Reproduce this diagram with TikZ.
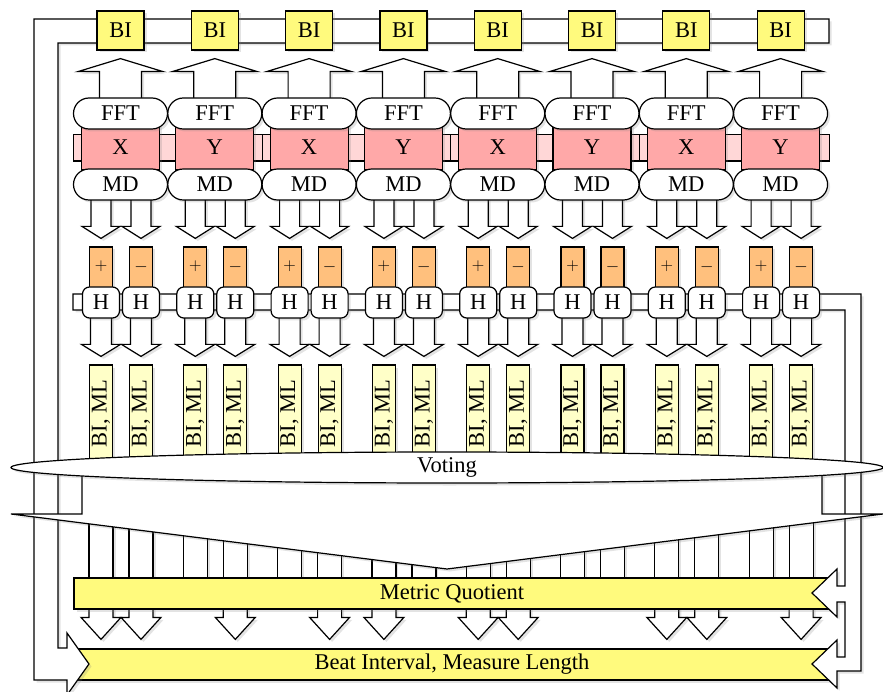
\documentclass[tikz,border=0pt]{standalone}
\usepackage{fontspec}
\setmainfont{Liberation Serif}
\usepackage{tikz}
\usetikzlibrary{calc,positioning,shapes.geometric,shapes.misc,shadows}
\definecolor{biyellow}{RGB}{255,250,125}
\definecolor{xyred}{RGB}{255,168,168}
\definecolor{bandpink}{RGB}{255,215,215}
\definecolor{signorange}{RGB}{255,192,125}
\definecolor{mlyellow}{RGB}{255,255,200}

\pgfdeclarelayer{bottom}
\pgfdeclarelayer{lower}
\pgfsetlayers{bottom,lower,main}

% fat arrow: start, tip, half shaft, half head, head length
\newcommand{\blockarrow}[5]{%
  \path[blockarr] let \p1=#1, \p2=#2 in
    ({\x1-#3},\y1) -- ({\x1-#3},{\y2+(#5)}) -- ({\x1-#4},{\y2+(#5)}) -- (\x1,\y2)
    -- ({\x1+#4},{\y2+(#5)}) -- ({\x1+#3},{\y2+(#5)}) -- ({\x1+#3},\y1) -- cycle;}

\tikzset{
  shad/.style={drop shadow={shadow xshift=2.5pt,shadow yshift=-2.5pt,opacity=0.22}},
  box/.style={draw,line width=1.2pt,inner sep=0pt,shad},
  bibox/.style={box,fill=biyellow,minimum width=47pt,minimum height=39pt},
  pill/.style={box,fill=white,rounded rectangle,minimum width=94pt,minimum height=31pt},
  xybox/.style={box,fill=xyred,minimum width=78pt,minimum height=45pt},
  signbox/.style={box,fill=signorange,minimum width=23pt,minimum height=44pt,font=\fontsize{16}{18}\selectfont},
  hnode/.style={box,fill=white,rounded corners=7pt,minimum width=37pt,minimum height=31pt},
  mlbox/.style={box,fill=mlyellow,rotate=90,minimum width=97pt,minimum height=23pt},
  bar/.style={box,fill=biyellow,minimum width=756pt,minimum height=31pt},
  vote/.style={box,fill=white,ellipse,minimum width=872pt,minimum height=31pt},
  pipe/.style={draw,fill=white,line width=1.2pt,shad},
  band/.style={draw,fill=bandpink,line width=1.2pt},
  blockarr/.style={draw,fill=white,line width=1.2pt,shad}
}

\begin{document}
\begin{tikzpicture}[x=1pt,y=-1pt,line width=1.2pt,font=\fontsize{22.5}{26}\selectfont]
  \useasboundingbox (0,0) rectangle (883,692);
  % result bars
  \node[bar] (mq) at (452,593.5) {Metric Quotient};
  \node[bar] (beat) at (452,664.5) {Beat Interval, Measure Length};
  % feedback from BI row
  \draw[pipe] (829,19) -- (34,19) -- (34,680) -- (67,680) -- (67,695) -- (89,664) -- (67,633)
    -- (67,648) -- (58,648) -- (58,43) -- (829,43) -- cycle;
  % feedback from H row
  \draw[pipe] (73,294) -- (861,294) -- (861,671) -- (837,671) -- (837,688) -- (812,664) -- (837,640)
    -- (837,657) -- (845,657) -- (845,602) -- (837,602) -- (837,617) -- (812,593) -- (837,569)
    -- (837,586) -- (845,586) -- (845,310) -- (73,310) -- cycle;
  % sign / H / BI,ML stage
  \foreach \i in {1,...,8}{
    \pgfmathsetmacro{\cx}{120.5+94.3*(\i-1)}
    \node[signbox] (sp\i) at (\cx-19.5,269) {\raisebox{6pt}{$+$}};
    \node[signbox] (sm\i) at (\cx+20.5,269) {\raisebox{6pt}{$-$}};
    \node[mlbox] (lp\i) at (\cx-19.5,413.5) {BI, ML};
    \node[mlbox] (lm\i) at (\cx+20.5,413.5) {BI, ML};
    \node[hnode] (hp\i) at (\cx-19.5,302.5) {H};
    \node[hnode] (hm\i) at (\cx+20.5,302.5) {H};
  }
  % voting
  \draw[pipe] (82,467) -- (82,514) -- (11,514) -- (447,569) -- (883,514) -- (822,514) -- (822,467) -- cycle;
  \node[vote] (vote) at (447,467.5) {Voting};
  % X/Y pairs
  \foreach \i in {1,3,5,7}{
    \pgfmathsetmacro{\cx}{120.5+94.3*(\i-1)}
    \draw[band] (\cx-47,134.5) rectangle (\cx+143.3,161);
  }
  \foreach \i in {1,...,8}{
    \pgfmathsetmacro{\cx}{120.5+94.3*(\i-1)}
    \node[xybox] (xy\i) at (\cx,147.5) {\ifodd\i\relax X\else Y\fi};
    \node[pill] (fft\i) at (\cx,113.5) {FFT};
    \node[pill] (md\i) at (\cx,184.5) {MD};
    \node[bibox] (bi\i) at (\cx,30.5) {BI};
  }
  \begin{pgfonlayer}{lower}
    \foreach \i in {1,...,8}{
      \blockarrow{(fft\i.center)}{($(bi\i.south)+(0,8)$)}{21}{42.5}{-13}
      \foreach \s in {sp,sm}{
        \blockarrow{(\s\i |- md\i.center)}{($(\s\i.north)+(0,-8)$)}{10}{19}{12}
      }
      \foreach \s/\l in {hp/lp,hm/lm}{
        \blockarrow{(\s\i.center)}{($(\l\i.east)+(0,-8)$)}{10.5}{19.5}{12}
      }
    }
  \end{pgfonlayer}
  \begin{pgfonlayer}{bottom}
    \foreach \i in {1,...,8}{
      \foreach \l in {lp,lm}{
        \draw[blockarr] ($(\l\i.west)+(-12,0)$) rectangle ($(\l\i.west |- mq.north)+(12,0)$);
      }
    }
    \foreach \c in {lp1,lm1,lm2,lm3,lp4,lp5,lm5,lp7,lm7,lm8}{
      \blockarrow{(\c |- mq.center)}{($(\c |- beat.north)+(0,-9)$)}{12}{20}{22}
    }
  \end{pgfonlayer}
\end{tikzpicture}
\end{document}
